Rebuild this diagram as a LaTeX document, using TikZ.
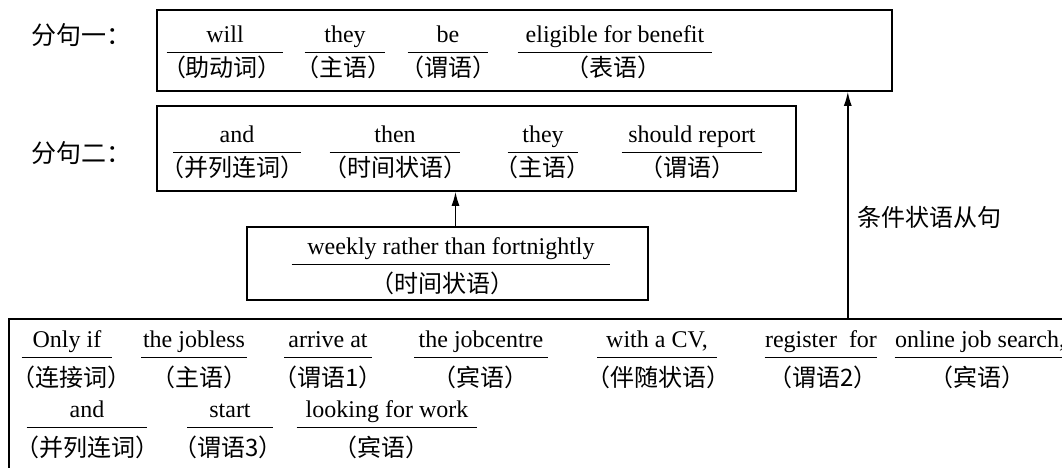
\documentclass[tikz,border=0pt]{standalone}
\usepackage{fontspec}
\setmainfont{Liberation Serif}
\newfontfamily\zhfont{Noto Sans CJK SC}
\usetikzlibrary{arrows.meta, positioning}

\tikzset{
	en/.style={font=\fontsize{12}{14}\selectfont, anchor=south, inner xsep=0pt, inner ysep=2pt,
		text height=8.5pt, text depth=2.5pt, minimum width=#1*0.5pt,
		append after command={(\tikzlastnode.south west) edge[line width=0.5pt] (\tikzlastnode.south east)}},
	zh/.style={font=\zhfont\fontsize{12}{14}\selectfont, inner sep=0pt},
	box/.style={draw, line width=0.8pt, inner sep=0pt},
	arr/.style={-{Latex[length=7pt,width=4pt]}, line width=0.7pt}
}

\begin{document}
\begin{tikzpicture}[x=0.5pt, y=-0.5pt]
			\useasboundingbox (0,0) rectangle (1062,467);
			% clause boxes
			\node(c1)  [box, minimum width=367.5pt, minimum height=40.5pt] at (524.5,50.5)  {};
			\node(c2)  [box, minimum width=319.5pt, minimum height=42.5pt] at (476.5,148.5)  {};
			\node(wbox)  [box, minimum width=200.5pt, minimum height=36.5pt] at (447.5,263.5)  {};
			\node(bbox)  [box, minimum width=535.5pt, minimum height=85.5pt] at (544.5,404.5)  {};
			\node(l1) [zh, font=\zhfont\fontsize{12.5}{14}\selectfont] at (82,35)  {分句一：};
			\node(l2) [zh, font=\zhfont\fontsize{12.5}{14}\selectfont] at (82,153)  {分句二：};
			
			% clause 1
			\node(will) [en=116] at (225,52)  {will};
			\node(willz) [zh] at (222,67.5)  {（助动词）};
			\node(they) [en=80] at (345,52)  {they};
			\node(theyz) [zh] at (343,67.5)  {（主语）};
			\node(be) [en=80] at (448,52)  {be};
			\node(bez) [zh] at (448,67.5)  {（谓语）};
			\node(elig) [en=194] at (615,52)  {eligible for benefit};
			\node(eligz) [zh] at (613,67.5)  {（表语）};
			
			% clause 2
			\node(and) [en=127] at (237,152)  {and};
			\node(andz) [zh] at (232,167.5)  {（并列连词）};
			\node(then) [en=130] at (395,152)  {then};
			\node(thenz) [zh] at (395,167.5)  {（时间状语）};
			\node(they2) [en=70] at (543,152)  {they};
			\node(they2z) [zh] at (542,167.5)  {（主语）};
			\node(report) [en=140] at (692,152)  {should report};
			\node(reportz) [zh] at (687,167.5)  {（谓语）};
			
			\node(weekly) [en=318] at (451,264)  {weekly rather than fortnightly};
			\node(weeklyz) [zh] at (442,283)  {（时间状语）};
			
			% conditional clause
			\node(onlyif) [en=90] at (67,357)  {Only if};
			\node(onlyifz) [zh] at (71,377)  {（连接词）};
			\node(jobless) [en=105] at (194,357)  {the jobless};
			\node(joblessz) [zh] at (199,377)  {（主语）};
			\node(arrive) [en=87] at (328,357)  {arrive at};
			\node(arrivez) [zh] at (328,377)  {（谓语1）};
			\node(centre) [en=133] at (481,357)  {the jobcentre};
			\node(centrez) [zh] at (480,377)  {（宾语）};
			\node(cv) [en=119] at (657,357)  {with a CV,};
			\node(cvz) [zh] at (658,377)  {（伴随状语）};
			\node(register) [en=112] at (821,357)  {register\ \ for};
			\node(registerz) [zh] at (823,377)  {（谓语2）};
			\node(search) [en=166] at (980,357)  {online job search,};
			\node(searchz) [zh] at (977,377)  {（宾语）};
			\node(and3) [en=120] at (87,427)  {and};
			\node(and3z) [zh] at (88,447)  {（并列连词）};
			\node(start) [en=85] at (230,427)  {start};
			\node(startz) [zh] at (228,447)  {（谓语3）};
			\node(looking) [en=180] at (387,427)  {looking for work};
			\node(lookingz) [zh] at (381,447)  {（宾语）};
			
			\draw[arr] ([xshift=4pt]wbox.north) -- ([xshift=4pt]wbox.north |- c2.south);
			\draw[arr] ([xshift=-22.5pt]c1.south east |- bbox.north) -- ([xshift=-22.5pt]c1.south east);
			\node(cond) [zh, font=\zhfont\fontsize{12}{14}\selectfont, anchor=west] at (857,217)  {条件状语从句};
		\end{tikzpicture}
\end{document}
